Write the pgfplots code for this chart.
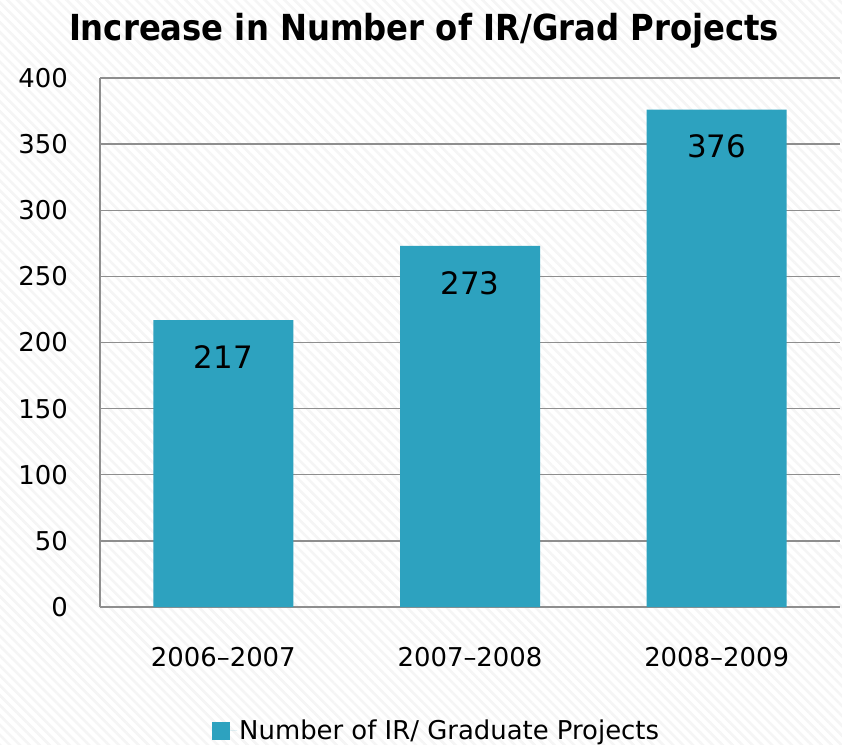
\documentclass[border=0pt]{standalone}
\usepackage{fontspec}
\setmainfont{DejaVu Sans}
\newfontfamily\condfont{DejaVu Sans Condensed}
\usepackage{pgfplots}
\pgfplotsset{compat=1.18}
\usetikzlibrary{backgrounds,calc,patterns.meta}
\definecolor{barc}{HTML}{2DA2BF}
\definecolor{gridc}{HTML}{8E8E8E}
\begin{document}
\begin{tikzpicture}
\begin{axis}[name=ax, scale only axis, width=740bp, height=529bp,
  ybar, bar width=140bp, xmin=-0.5, xmax=2.5, ymin=0, ymax=400,
  xtick={0,1,2},
  xticklabels={2006\textendash2007, 2007\textendash2008, 2008\textendash2009},
  ytick={0,50,...,400},
  axis x line*=bottom, axis y line*=left,
  axis line style={gridc, line width=1.3bp, -},
  ymajorgrids, grid style={gridc, line width=1.3bp},
  major tick length=0pt,
  /pgf/number format/assume math mode=true,
  ticklabel style={font=\fontsize{26}{26}\selectfont, text=black},
  yticklabel style={anchor=east, inner sep=0pt, xshift=-32bp},
  xticklabel style={anchor=north, inner sep=0pt, yshift=-40bp},
  nodes near coords,
  nodes near coords style={anchor=center, yshift=-37bp, font=\fontsize{31}{31}\selectfont, text=black},
  legend style={at={(0.1514,-0.234)}, anchor=west, draw=none, fill=none, inner sep=0pt,
    font=\fontsize{26}{26}\selectfont, legend cell align=left},
  clip=false
]
\addplot[fill=barc, draw=none,
  legend image code/.code={\path (0bp,0bp) -- (25bp,0bp);\fill[barc] (0bp,-9bp) rectangle (18bp,9bp);}]
  coordinates {(0,217) (1,273) (2,376)};
\addlegendentry{Number of IR/ Graduate Projects}
\end{axis}
\node[anchor=base, font=\condfont\bfseries\fontsize{36}{36}\selectfont]
  at ($(ax.south west)+(324bp,566bp)$) {Increase in Number of IR/Grad Projects};
\begin{scope}[on background layer]
\fill[white] ($(ax.south west)+(-100bp,-138bp)$) rectangle ($(ax.north east)+(2bp,78bp)$);
\fill[pattern={Lines[angle=-45,distance=7bp,line width=2.5bp]}, pattern color=gray!8]
  ($(ax.south west)+(-100bp,-138bp)$) rectangle ($(ax.north east)+(2bp,78bp)$);
\end{scope}
\pgfresetboundingbox
\path ($(ax.south west)+(-100bp,-138bp)$) rectangle ($(ax.north east)+(2bp,78bp)$);
\end{tikzpicture}
\end{document}
